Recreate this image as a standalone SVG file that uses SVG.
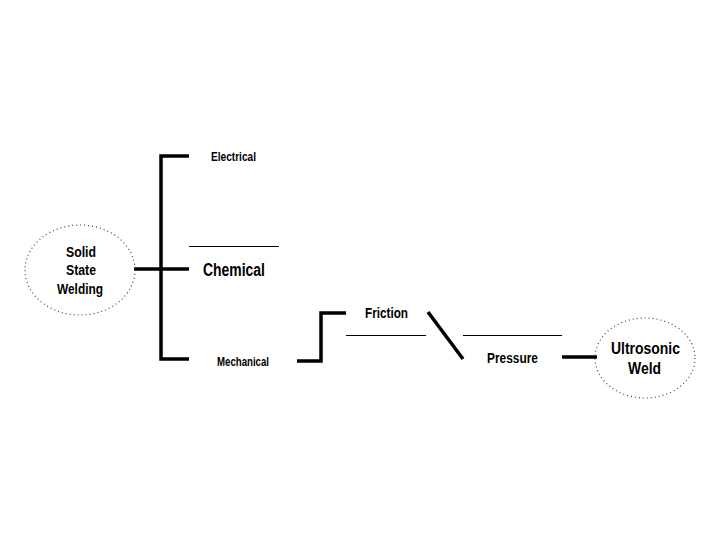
<svg xmlns="http://www.w3.org/2000/svg" width="720" height="540" viewBox="0 0 720 540">
<style>
.t{font-family:"Liberation Sans",Arial,sans-serif;font-weight:bold;fill:#000;text-anchor:start}
.thick{stroke:#000;stroke-width:3.5;fill:none}
.thin{stroke:#000;stroke-width:1;fill:none}
.dot{stroke:#444;stroke-width:1.2;stroke-dasharray:1 3;fill:none}
</style>
<rect width="720" height="540" fill="#fff"/>
<g id="connectors">
<path class="thick" d="M189 156 H161 V359 H189"/>
<path class="thick" d="M134 269 H189"/>
<line class="thin" x1="189" y1="246.5" x2="279" y2="246.5"/>
<path class="thick" d="M297 361 H321 V313 H346"/>
<line class="thin" x1="346" y1="335.5" x2="426" y2="335.5"/>
<line class="thick" x1="428" y1="312" x2="463" y2="359"/>
<line class="thin" x1="463" y1="335.5" x2="562" y2="335.5"/>
<line class="thick" x1="562" y1="357" x2="597" y2="357"/>
</g>
<g id="solid-state-welding">
<ellipse class="dot" cx="80" cy="270" rx="55" ry="45"/>
<text class="t" x="66" y="257" font-size="15" textLength="30" lengthAdjust="spacingAndGlyphs">Solid</text>
<text class="t" x="66" y="275" font-size="15" textLength="30" lengthAdjust="spacingAndGlyphs">State</text>
<text class="t" x="57" y="294" font-size="15" textLength="46" lengthAdjust="spacingAndGlyphs">Welding</text>
</g>
<g id="electrical">
<text class="t" x="211" y="161" font-size="12" textLength="45" lengthAdjust="spacingAndGlyphs">Electrical</text>
</g>
<g id="chemical">
<text class="t" x="203" y="276" font-size="18" textLength="62" lengthAdjust="spacingAndGlyphs">Chemical</text>
</g>
<g id="mechanical">
<text class="t" x="217" y="366" font-size="12" textLength="52" lengthAdjust="spacingAndGlyphs">Mechanical</text>
</g>
<g id="friction">
<text class="t" x="365" y="318" font-size="14" textLength="43" lengthAdjust="spacingAndGlyphs">Friction</text>
</g>
<g id="pressure">
<text class="t" x="487" y="363" font-size="14" textLength="51" lengthAdjust="spacingAndGlyphs">Pressure</text>
</g>
<g id="ultrasonic-weld">
<ellipse class="dot" cx="645" cy="358" rx="50" ry="40"/>
<text class="t" x="611" y="354" font-size="16" textLength="69" lengthAdjust="spacingAndGlyphs">Ultrosonic</text>
<text class="t" x="628" y="374" font-size="16" textLength="33" lengthAdjust="spacingAndGlyphs">Weld</text>
</g>
</svg>
